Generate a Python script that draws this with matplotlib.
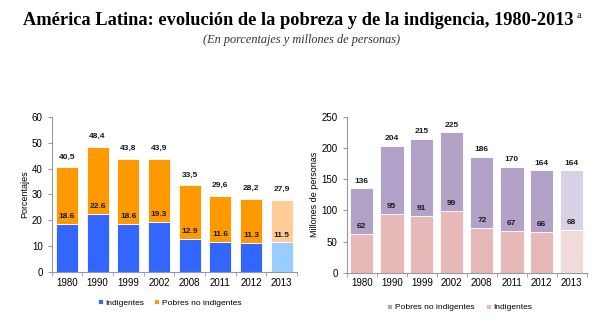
import matplotlib.pyplot as plt
import numpy as np

# data
years = ["1980", "1990", "1999", "2002", "2008", "2011", "2012", "2013"]
pct_indig = [18.6, 22.6, 18.6, 19.3, 12.9, 11.6, 11.3, 11.5]
pct_total = [40.5, 48.4, 43.8, 43.9, 33.5, 29.6, 28.2, 27.9]
mil_indig = [62, 95, 91, 99, 72, 67, 66, 68]
mil_total = [136, 204, 215, 225, 186, 170, 164, 164]

pct_pobres = [t - i for t, i in zip(pct_total, pct_indig)]
mil_pobres = [t - i for t, i in zip(mil_total, mil_indig)]

plt.rcParams['font.family'] = ['Liberation Sans', 'DejaVu Sans']

fig = plt.figure(figsize=(6, 3.22), dpi=100)

# title with a small superscript "a", the pair centred on the figure
title = fig.text(0.5, 0.922, "América Latina: evolución de la pobreza y de la indigencia, 1980-2013",
                 ha="left", va="baseline", fontsize=13.2, family="Liberation Serif", fontweight="bold")
sup = fig.text(0.5, 0.945, "a", ha="left", va="baseline", fontsize=7, family="Liberation Serif")
renderer = fig.canvas.get_renderer()
wt = title.get_window_extent(renderer).width / fig.bbox.width
ws = sup.get_window_extent(renderer).width / fig.bbox.width
gap = 3 / fig.bbox.width
x0 = 0.504 - (wt + gap + ws) / 2
title.set_x(x0)
sup.set_x(x0 + wt + gap)

fig.text(0.503, 0.865, "(En porcentajes y millones de personas)", ha="center", va="baseline",
         fontsize=8.8, family="Liberation Serif", style="italic", color="#333333")

x = np.arange(len(years))


def style_axes(ax):
    for s in ["top", "right"]:
        ax.spines[s].set_visible(False)
    for s in ["left", "bottom"]:
        ax.spines[s].set_color("#999999")
        ax.spines[s].set_linewidth(0.8)
    ax.set_xlim(-0.5, len(years) - 0.5)
    ax.set_xticks(x)
    ax.set_xticklabels(years, fontsize=7)
    ax.set_xticks(np.arange(-0.5, len(years)), minor=True)
    ax.tick_params(axis="x", which="major", length=0, pad=4)
    ax.tick_params(axis="x", which="minor", length=3, color="#999999")
    ax.tick_params(axis="y", length=3, color="#999999", labelsize=7)


# left chart: percentages
ax1 = fig.add_axes([0.086, 0.155, 0.409, 0.482])
c_ind = ["#3366FF"] * 7 + ["#99CCFF"]
c_pob = ["#FF9900"] * 7 + ["#FFCC99"]
ax1.bar(x, pct_indig, 0.72, color=c_ind, edgecolor="white", linewidth=0.6, label="Indigentes")
ax1.bar(x, pct_pobres, 0.72, bottom=pct_indig, color=c_pob, edgecolor="white", linewidth=0.6,
        label="Pobres no indigentes")
ax1.set_ylim(0, 60)
ax1.set_yticks(range(0, 61, 10))
ax1.set_ylabel("Porcentajes", fontsize=6.5, labelpad=2)
style_axes(ax1)
for i in range(len(years)):
    ax1.text(x[i], pct_indig[i] + 2.8, f"{pct_indig[i]:.1f}", ha="center", va="center",
             fontsize=6, fontweight="bold", color="#1a1a1a")
    ax1.text(x[i], pct_total[i] + 4.0, f"{pct_total[i]:.1f}".replace(".", ","), ha="center",
             va="center", fontsize=6, fontweight="bold", color="#1a1a1a")
ax1.legend(loc="upper center", bbox_to_anchor=(0.48, -0.125), ncol=2, frameon=False,
           fontsize=6, handlelength=0.6, handleheight=0.6, handletextpad=0.3, columnspacing=1.2)

# right chart: millions of persons
ax2 = fig.add_axes([0.578, 0.153, 0.4, 0.484])
c_ind2 = ["#E6B9B8"] * 7 + ["#F2DCDB"]
c_pob2 = ["#B3A2C7"] * 7 + ["#D9D2E6"]
b_ind = ax2.bar(x, mil_indig, 0.78, color=c_ind2, edgecolor="white", linewidth=0.6, label="Indigentes")
b_pob = ax2.bar(x, mil_pobres, 0.78, bottom=mil_indig, color=c_pob2, edgecolor="white", linewidth=0.6,
                label="Pobres no indigentes")
ax2.set_ylim(0, 250)
ax2.set_yticks(range(0, 251, 50))
ax2.set_ylabel("Millones de personas", fontsize=6.5, labelpad=2)
style_axes(ax2)
for i in range(len(years)):
    ax2.text(x[i], mil_indig[i] + 12, f"{mil_indig[i]}", ha="center", va="center",
             fontsize=6, fontweight="bold", color="#1a1a1a")
    ax2.text(x[i], mil_total[i] + 11, f"{mil_total[i]}", ha="center", va="center",
             fontsize=6, fontweight="bold", color="#1a1a1a")
ax2.legend([b_pob, b_ind], ["Pobres no indigentes", "Indigentes"], loc="upper center",
           bbox_to_anchor=(0.47, -0.15), ncol=2, frameon=False, fontsize=6,
           handlelength=0.6, handleheight=0.6, handletextpad=0.3, columnspacing=1.4)

fig.savefig("out.png", dpi=100)
